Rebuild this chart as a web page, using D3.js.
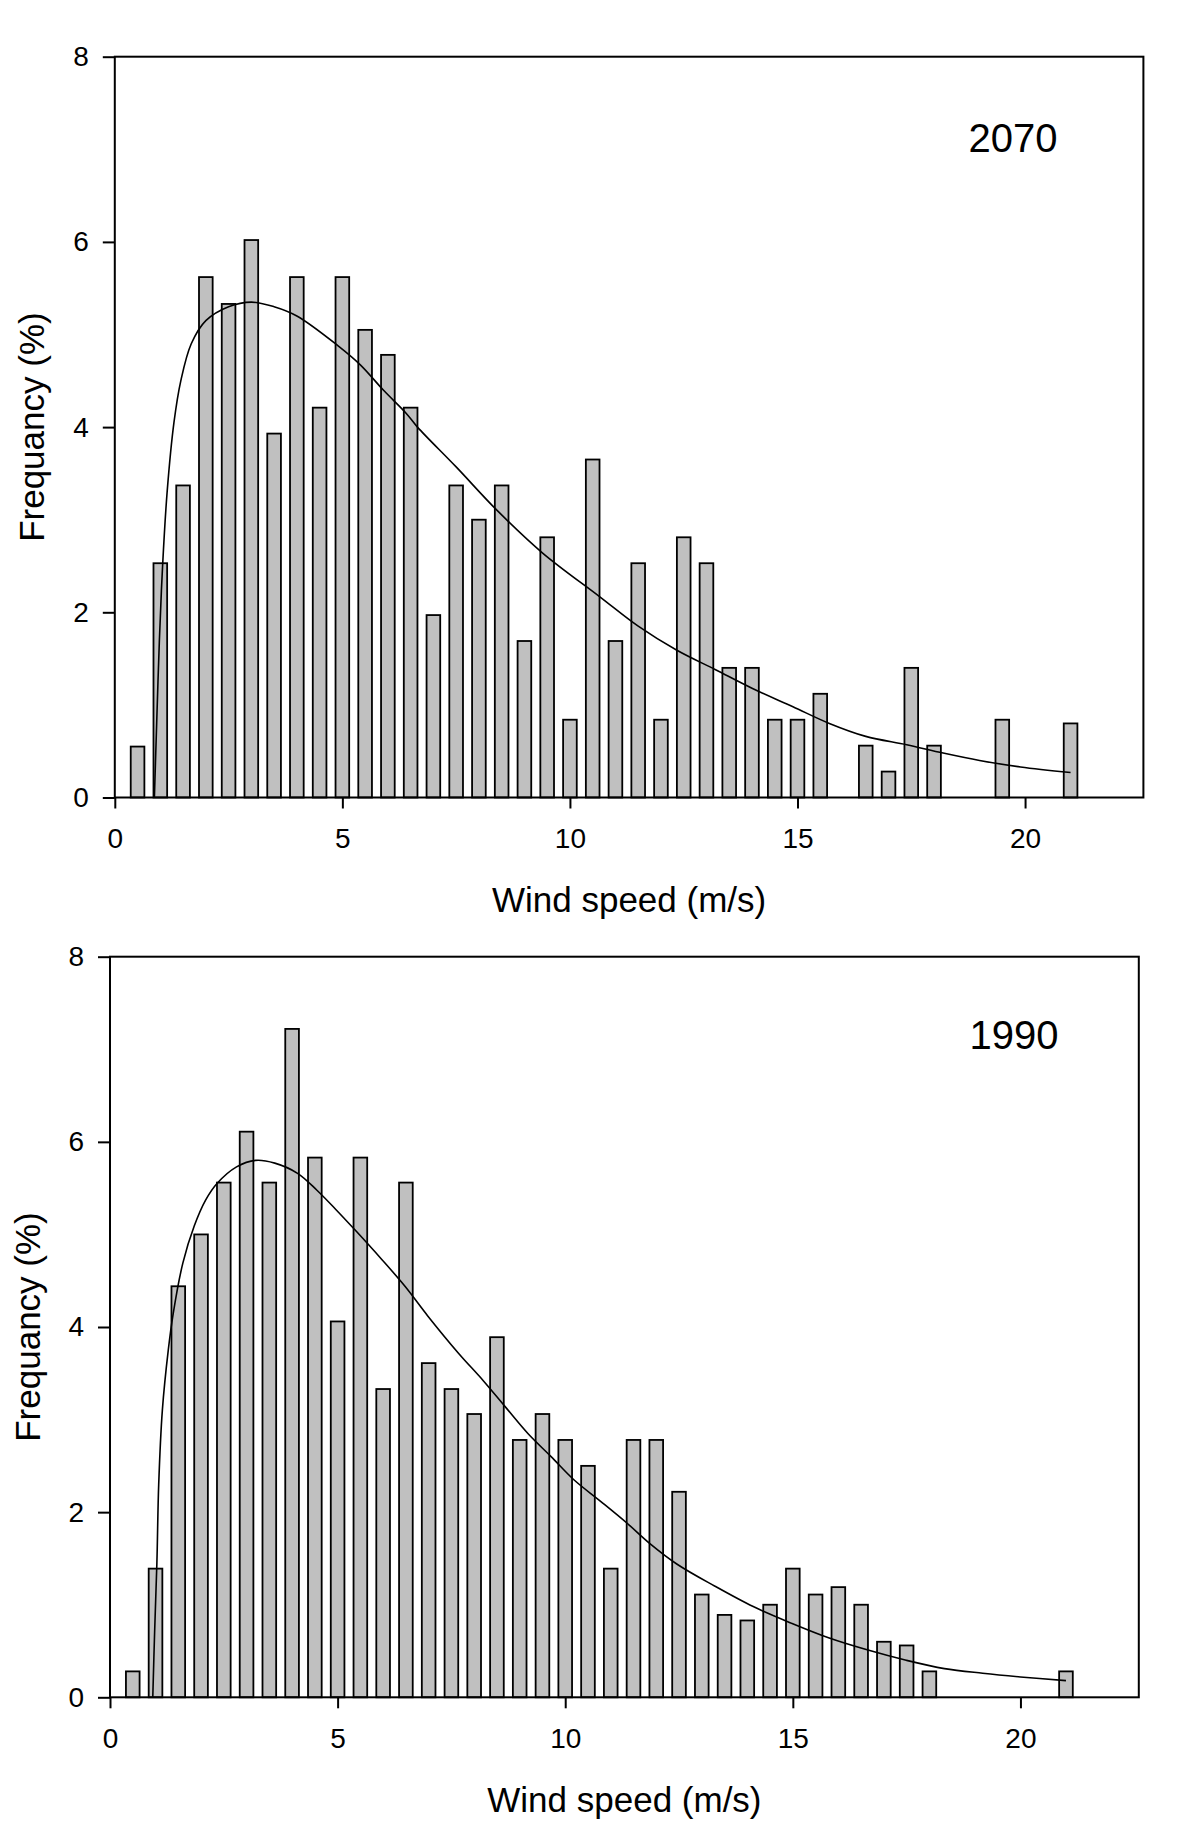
<!DOCTYPE html>
<html>
<head>
<meta charset="utf-8">
<script src="https://cdn.jsdelivr.net/npm/d3@7"></script>
<style>
  html, body { margin: 0; padding: 0; background: #fff; }
  svg { display: block; }
  text { font-family: "Liberation Sans", Arial, sans-serif; fill: #000; }
</style>
</head>
<body>
<svg id="chart" width="1200" height="1825"></svg>
<script>
// ---------- data ----------
const binCenters = [0.5,1,1.5,2,2.5,3,3.5,4,4.5,5,5.5,6,6.5,7,7.5,8,8.5,9,9.5,10,10.5,
                    11,11.5,12,12.5,13,13.5,14,14.5,15,15.5,16,16.5,17,17.5,18,18.5,19,19.5,20,20.5,21];

const freq2070 = [0.55,2.53,3.37,5.62,5.33,6.02,3.93,5.62,4.21,5.62,5.05,4.78,4.21,1.97,3.37,3.00,3.37,1.69,2.81,0.84,3.65,
                  1.69,2.53,0.84,2.81,2.53,1.40,1.40,0.84,0.84,1.12,0,0.56,0.28,1.40,0.56,0,0,0.84,0,0,0.80];

const freq1990 = [0.28,1.39,4.44,5.00,5.56,6.11,5.56,7.22,5.83,4.06,5.83,3.33,5.56,3.61,3.33,3.06,3.89,2.78,3.06,2.78,2.50,
                  1.39,2.78,2.78,2.22,1.11,0.89,0.83,1.00,1.39,1.11,1.19,1.00,0.60,0.56,0.28,0,0,0,0,0,0.28];

// fitted curve: [wind speed, frequency]
const fit2070 = [[0.87,0],[0.92,0.8],[0.98,1.7],[1.05,2.5],[1.15,3.3],[1.3,4.05],[1.45,4.5],[1.68,4.9],[2.0,5.15],
                 [2.5,5.3],[3.0,5.35],[3.5,5.3],[4.0,5.2],[4.9,4.88],[5.4,4.67],[5.9,4.4],[6.4,4.15],[6.65,4.0],
                 [7.5,3.57],[8.4,3.1],[9.4,2.64],[10.65,2.17],[11.5,1.85],[12.35,1.59],[13.2,1.38],[14.0,1.18],
                 [14.9,0.98],[15.7,0.80],[16.5,0.66],[17.4,0.57],[18.2,0.48],[19.0,0.40],[19.9,0.33],[21.0,0.27]];

const fit1990 = [[0.94,0],[0.98,0.7],[1.03,1.45],[1.07,2.3],[1.15,3.1],[1.28,3.75],[1.39,4.15],[1.6,4.69],[1.85,5.09],
                 [2.1,5.37],[2.35,5.55],[2.78,5.73],[3.2,5.8],[3.62,5.77],[4.12,5.66],[4.54,5.48],[4.96,5.27],
                 [5.38,5.05],[5.97,4.73],[6.48,4.44],[6.98,4.12],[7.65,3.72],[8.2,3.42],[8.68,3.14],[9.18,2.85],
                 [9.69,2.6],[10.19,2.35],[10.77,2.12],[11.36,1.88],[11.86,1.66],[12.45,1.44],[13.29,1.2],[14.13,0.98],
                 [14.97,0.8],[15.8,0.64],[16.65,0.51],[17.49,0.4],[18.33,0.31],[19.17,0.26],[20.0,0.22],[21.0,0.18]];

const xTicks = [0, 5, 10, 15, 20];
const yTicks = [0, 2, 4, 6, 8];
const xDomain = [0, 22.6];
const yDomain = [0, 8];
const barWidthUnits = 0.3;
const xTitle = "Wind speed (m/s)";
const yTitle = "Frequancy (%)";

const panels = [
  { label: "2070", values: freq2070, fit: fit2070,
    left: 114.8, right: 1143.4, top: 56.7, bottom: 797.5,
    labelX: 1013, labelY: 152, xTitleY: 912, yTitleX: 31 },
  { label: "1990", values: freq1990, fit: fit1990,
    left: 110, right: 1138.8, top: 956.7, bottom: 1697.3,
    labelX: 1014, labelY: 1049, xTitleY: 1812, yTitleX: 27 }
];

// ---------- drawing ----------
const svg = d3.select("#chart");

panels.forEach(p => {
  const x = d3.scaleLinear().domain(xDomain).range([p.left, p.right]);
  const y = d3.scaleLinear().domain(yDomain).range([p.bottom, p.top]);
  const g = svg.append("g");

  const bars = binCenters.map((c, i) => ({ c, v: p.values[i] })).filter(d => d.v > 0);
  g.selectAll("rect.bar").data(bars).enter().append("rect")
    .attr("class", "bar")
    .attr("x", d => x(d.c - barWidthUnits / 2))
    .attr("width", d => x(d.c + barWidthUnits / 2) - x(d.c - barWidthUnits / 2))
    .attr("y", d => y(d.v))
    .attr("height", d => y(0) - y(d.v))
    .attr("fill", "#c0c0c0")
    .attr("stroke", "#000")
    .attr("stroke-width", 1.8);

  const line = d3.line().x(d => x(d[0])).y(d => y(d[1])).curve(d3.curveCatmullRom.alpha(0.5));
  g.append("path").datum(p.fit)
    .attr("d", line)
    .attr("fill", "none")
    .attr("stroke", "#000")
    .attr("stroke-width", 1.6);

  // frame
  g.append("rect")
    .attr("x", p.left).attr("y", p.top)
    .attr("width", p.right - p.left).attr("height", p.bottom - p.top)
    .attr("fill", "none").attr("stroke", "#000").attr("stroke-width", 2);

  const xAxis = g.append("g")
    .attr("transform", `translate(0,${p.bottom})`)
    .call(d3.axisBottom(x).tickValues(xTicks).tickSize(11).tickPadding(20).tickSizeOuter(0));
  const yAxis = g.append("g")
    .attr("transform", `translate(${p.left},0)`)
    .call(d3.axisLeft(y).tickValues(yTicks).tickSize(12).tickPadding(14).tickSizeOuter(0));

  [xAxis, yAxis].forEach(ax => {
    ax.select(".domain").remove();
    ax.selectAll(".tick line").attr("stroke", "#000").attr("stroke-width", 2);
    ax.selectAll(".tick text")
      .attr("font-family", "Liberation Sans, Arial, sans-serif")
      .attr("font-size", 28).attr("fill", "#000");
  });

  g.append("text")
    .attr("x", (p.left + p.right) / 2).attr("y", p.xTitleY)
    .attr("text-anchor", "middle").attr("font-size", 35)
    .text(xTitle);

  g.append("text")
    .attr("transform", `translate(${p.yTitleX},${(p.top + p.bottom) / 2}) rotate(-90)`)
    .attr("text-anchor", "middle").attr("dominant-baseline", "central")
    .attr("font-size", 35)
    .text(yTitle);

  g.append("text")
    .attr("x", p.labelX).attr("y", p.labelY)
    .attr("text-anchor", "middle").attr("font-size", 40)
    .text(p.label);
});
</script>
</body>
</html>
